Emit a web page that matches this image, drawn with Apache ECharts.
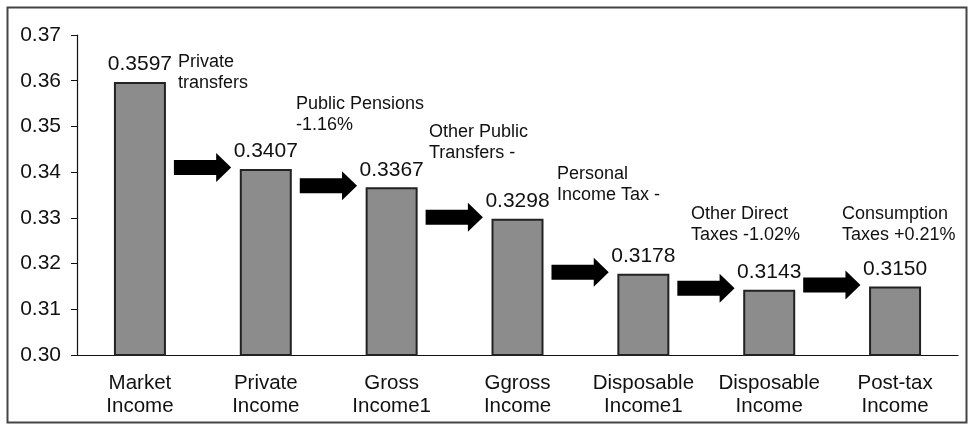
<!DOCTYPE html>
<html><head><meta charset="utf-8">
<script src="https://cdn.jsdelivr.net/npm/echarts@6/dist/echarts.min.js"></script>
<style>html,body{margin:0;padding:0;background:#fff}#c{width:969px;height:426px}</style>
</head><body><div id="c"></div>
<script>
const categories = ['Market\nIncome','Private\nIncome','Gross\nIncome1','Ggross\nIncome','Disposable\nIncome1','Disposable\nIncome','Post-tax\nIncome'];
const values = [0.3597, 0.3407, 0.3367, 0.3298, 0.3178, 0.3143, 0.3150];
const valueLabels = ['0.3597','0.3407','0.3367','0.3298','0.3178','0.3143','0.3150'];
const yTicks = ['0.30','0.31','0.32','0.33','0.34','0.35','0.36','0.37'];
const annotations = ['Private\ntransfers','Public Pensions\n-1.16%','Other Public\nTransfers -','Personal\nIncome Tax -','Other Direct\nTaxes -1.02%','Consumption\nTaxes +0.21%'];

// layout (pixel positions of annotation text)
const annPos = [[178,52],[296,94],[429,122],[557,164],[691,204],[842,204]];

const arrowData = values.slice(1).map((v,i)=>[i, v]);
const font = 'Liberation Sans, Arial, Helvetica, sans-serif';
const chart = echarts.init(document.getElementById('c'), null, {renderer:'canvas'});
chart.setOption({
  animation:false,
  backgroundColor:'#fff',
  grid:{left:77,right:11,top:35,bottom:71},
  xAxis:{type:'category',data:categories,boundaryGap:true,
    axisLine:{lineStyle:{color:'#111',width:1.2}},
    axisTick:{inside:true,length:4,lineStyle:{color:'#111'}},
    axisLabel:{color:'#111',fontSize:20.5,fontFamily:font,lineHeight:23,margin:17,interval:0}},
  yAxis:{type:'value',min:0.30,max:0.37,interval:0.01,
    axisLine:{show:true,lineStyle:{color:'#111',width:1.2}},
    axisTick:{show:true,length:6,lineStyle:{color:'#111'}},
    splitLine:{show:false},
    axisLabel:{color:'#111',fontSize:21,fontFamily:font,margin:16,
      formatter:(v)=>{const i=Math.round((v-0.30)/0.01);return yTicks[i];}}},
  series:[
    {type:'bar',data:values,barWidth:52,
      itemStyle:{color:'#8c8c8c',borderColor:'#222',borderWidth:2},
      label:{show:true,position:'top',distance:7,color:'#111',fontSize:21,fontFamily:font,
        formatter:(p)=>valueLabels[p.dataIndex]}},
    {type:'custom',data:arrowData,z:5,
      renderItem:(params,api)=>{
        const i=api.value(0), v=api.value(1);
        const c=api.coord([i,v]);
        const bw=api.size([1,0])[0];
        const x0=c[0]+0.27*bw, x1=c[0]+0.725*bw, y=c[1]-1.5;
        const hh=14.5, bh=7.5, hl=15;
        return {type:'polygon',shape:{points:[
          [x0,y-bh],[x1-hl,y-bh],[x1-hl,y-hh],[x1,y],[x1-hl,y+hh],[x1-hl,y+bh],[x0,y+bh]]},
          style:{fill:'#000'}};
      }}
  ],
  graphic:[
    {type:'rect',left:5,top:5,shape:{width:959,height:415},style:{fill:'none',stroke:'#444',lineWidth:2},silent:true},
    ...annotations.map((t,i)=>({type:'text',left:annPos[i][0],top:annPos[i][1],
      style:{text:t,fill:'#111',font:'18px '+font,lineHeight:21}}))
  ]
});
</script></body></html>
